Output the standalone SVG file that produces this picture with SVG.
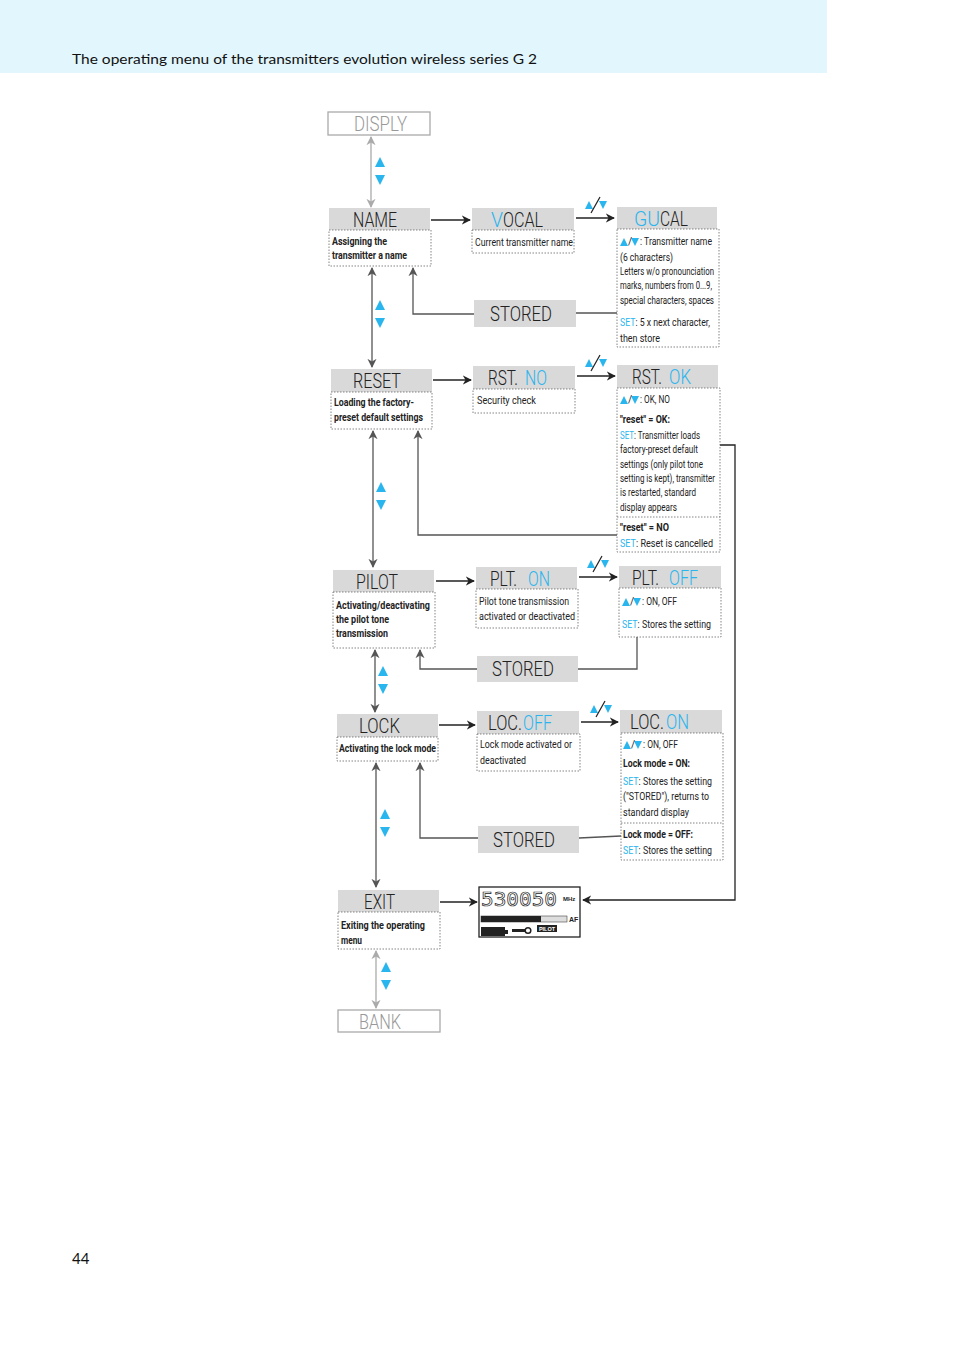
<svg xmlns="http://www.w3.org/2000/svg" width="954" height="1351" viewBox="0 0 954 1351">
<style>
.hd{fill:#d9d9d9}
.ds{fill:#fff;stroke:#666;stroke-width:0.8;stroke-dasharray:1.5 1.5}
.ht{font-family:Roboto,"Liberation Sans",sans-serif;font-weight:300;font-size:20px;fill:#222}
.hb{font-family:Roboto,"Liberation Sans",sans-serif;font-weight:300;font-size:20px;fill:#29b5ee}
.b{fill:#29b5ee}
.t{font-family:Roboto,"Liberation Sans",sans-serif;font-size:10px;fill:#222}
.tb{font-family:Roboto,"Liberation Sans",sans-serif;font-size:10px;fill:#222;font-weight:bold}
.ln{fill:none;stroke:#555;stroke-width:1.3}
.lk{fill:none;stroke:#222;stroke-width:1.3}
.lg{fill:none;stroke:#aaa;stroke-width:1.3}
.gr{font-family:Roboto,"Liberation Sans",sans-serif;font-weight:300;font-size:20px;fill:#999}
</style>
<defs>
<marker id="a" viewBox="0 0 10 10" refX="9" refY="5" markerWidth="7" markerHeight="7" orient="auto-start-reverse"><path d="M0,0 L10,5 L0,10 L3,5 z" fill="#222"/></marker>
<marker id="ag" viewBox="0 0 10 10" refX="9" refY="5" markerWidth="7" markerHeight="7" orient="auto-start-reverse"><path d="M0,0 L10,5 L0,10 L3,5 z" fill="#555"/></marker>
<marker id="al" viewBox="0 0 10 10" refX="9" refY="5" markerWidth="7" markerHeight="7" orient="auto-start-reverse"><path d="M0,0 L10,5 L0,10 L3,5 z" fill="#aaa"/></marker>
<g id="ud"><path d="M-5,0 L0,-10 L5,0 z" class="b"/><path d="M-5,8 L5,8 L0,18 z" class="b"/></g>
<g id="sl"><path d="M-11,3 L-7,-5 L-3,3 z" class="b"/><path d="M3,-5 L11,-5 L7,3 z" class="b"/><path d="M-5,7 L4,-9" stroke="#222" stroke-width="1.2"/></g>
</defs>
<rect x="0" y="0" width="827" height="73" fill="#e1f6fd"/>
<text x="72" y="64" font-family="Lato,'Open Sans',sans-serif" font-size="14" fill="#111" textLength="465" lengthAdjust="spacingAndGlyphs">The operating menu of the transmitters evolution wireless series G 2</text>
<text x="72" y="1264" font-family="Lato,'Open Sans',sans-serif" font-size="15" fill="#111">44</text>

<g id="connectors">
<path class="lg" d="M371,137 V207" marker-start="url(#al)" marker-end="url(#al)"/>
<use href="#ud" x="380" y="167"/>
<path class="lk" d="M431,220 H470" marker-end="url(#a)"/>
<path class="lk" d="M576,218 H614" marker-end="url(#a)"/><use href="#sl" x="596" y="206"/>
<path class="ln" d="M617,313 H576 M474,314 H413 V268" marker-end="url(#ag)"/>
<path class="ln" d="M372,268 V367" marker-start="url(#ag)" marker-end="url(#ag)"/>
<use href="#ud" x="380" y="310"/>
<path class="lk" d="M433,380 H471" marker-end="url(#a)"/>
<path class="lk" d="M577,376 H615" marker-end="url(#a)"/><use href="#sl" x="596" y="364"/>
<path class="ln" d="M617,535 H418 V431" marker-end="url(#ag)"/>
<path class="lk" d="M720,445 H735 V900 H583" marker-end="url(#a)"/>
<path class="ln" d="M373,431 V567" marker-start="url(#ag)" marker-end="url(#ag)"/>
<use href="#ud" x="381" y="492"/>
<path class="lk" d="M436,581 H474" marker-end="url(#a)"/>
<path class="lk" d="M579,577 H617" marker-end="url(#a)"/><use href="#sl" x="598" y="565"/>
<path class="ln" d="M637,637 V669 H578 M477,669 H420 V650" marker-end="url(#ag)"/>
<path class="ln" d="M375,650 V712" marker-start="url(#ag)" marker-end="url(#ag)"/>
<use href="#ud" x="383" y="676"/>
<path class="lk" d="M439,725 H475" marker-end="url(#a)"/>
<path class="lk" d="M581,722 H618" marker-end="url(#a)"/><use href="#sl" x="601" y="710"/>
<path class="ln" d="M621,836 L579,838 M478,838 H420 V763" marker-end="url(#ag)"/>
<path class="ln" d="M376,763 V887" marker-start="url(#ag)" marker-end="url(#ag)"/>
<use href="#ud" x="385" y="819"/>
<path class="lk" d="M440,902 H477" marker-end="url(#a)"/>
<path class="lg" d="M376,951 V1008" marker-start="url(#al)" marker-end="url(#al)"/>
<use href="#ud" x="386" y="972"/>
</g>

<g id="disply"><rect x="328" y="112" width="102" height="23" fill="#fff" stroke="#aaa" stroke-width="1.3"/><text class="gr" x="354" y="131" textLength="53" lengthAdjust="spacingAndGlyphs">DISPLY</text></g>
<g id="bank"><rect x="338" y="1010" width="102" height="22" fill="#fff" stroke="#aaa" stroke-width="1.3"/><text class="gr" x="359" y="1029" textLength="42" lengthAdjust="spacingAndGlyphs">BANK</text></g>

<g id="name"><rect class="hd" x="329" y="208" width="101" height="22"/><text class="ht" x="353" y="227" textLength="44" lengthAdjust="spacingAndGlyphs">NAME</text>
<rect class="ds" x="329" y="230" width="102" height="36"/><text class="tb" x="332" y="245" textLength="55" lengthAdjust="spacingAndGlyphs">Assigning the</text><text class="tb" x="332" y="259" textLength="75" lengthAdjust="spacingAndGlyphs">transmitter a name</text></g>

<g id="vocal"><rect class="hd" x="472" y="208" width="102" height="22"/><text class="hb" x="491" y="227" textLength="12" lengthAdjust="spacingAndGlyphs">V</text><text class="ht" x="503" y="227" textLength="40" lengthAdjust="spacingAndGlyphs">OCAL</text>
<rect class="ds" x="472" y="230" width="102" height="23"/><text class="t" x="475" y="246" textLength="98" lengthAdjust="spacingAndGlyphs">Current transmitter name</text></g>

<g id="gucal"><rect class="hd" x="617" y="207" width="100" height="22"/><text class="hb" x="634" y="226" textLength="26" lengthAdjust="spacingAndGlyphs">GU</text><text class="ht" x="660" y="226" textLength="28" lengthAdjust="spacingAndGlyphs">CAL</text>
<rect class="ds" x="617" y="229" width="102" height="118"/>
<path d="M620,246 L624,238 L628,246 z M631,238 L639,238 L635,246 z" class="b"/>
<text class="t" x="628" y="245">/</text><text class="t" x="640" y="245" textLength="72" lengthAdjust="spacingAndGlyphs">: Transmitter name</text>
<text class="t" x="620" y="261" textLength="53" lengthAdjust="spacingAndGlyphs">(6 characters)</text>
<text class="t" x="620" y="275" textLength="94" lengthAdjust="spacingAndGlyphs">Letters w/o pronounciation</text>
<text class="t" x="620" y="289" textLength="92" lengthAdjust="spacingAndGlyphs">marks, numbers from 0...9,</text>
<text class="t" x="620" y="304" textLength="94" lengthAdjust="spacingAndGlyphs">special characters, spaces</text>
<text class="t" x="620" y="326" textLength="90" lengthAdjust="spacingAndGlyphs"><tspan fill="#29b5ee">SET</tspan>: 5 x next character,</text>
<text class="t" x="620" y="342" textLength="40" lengthAdjust="spacingAndGlyphs">then store</text></g>

<g id="stored1"><rect class="hd" x="474" y="300" width="102" height="27"/><text class="ht" x="490" y="321" textLength="62" lengthAdjust="spacingAndGlyphs">STORED</text></g>

<g id="reset"><rect class="hd" x="331" y="369" width="101" height="23"/><text class="ht" x="353" y="388" textLength="48" lengthAdjust="spacingAndGlyphs">RESET</text>
<rect class="ds" x="331" y="392" width="101" height="37"/><text class="tb" x="334" y="406" textLength="80" lengthAdjust="spacingAndGlyphs">Loading the factory-</text><text class="tb" x="334" y="421" textLength="89" lengthAdjust="spacingAndGlyphs">preset default settings</text></g>

<g id="rstno"><rect class="hd" x="473" y="366" width="102" height="23"/><text class="ht" x="488" y="385" textLength="30" lengthAdjust="spacingAndGlyphs">RST.</text><text class="hb" x="525" y="385" textLength="22" lengthAdjust="spacingAndGlyphs">NO</text>
<rect class="ds" x="473" y="389" width="102" height="24"/><text class="t" x="477" y="404" textLength="59" lengthAdjust="spacingAndGlyphs">Security check</text></g>

<g id="rstok"><rect class="hd" x="617" y="365" width="101" height="23"/><text class="ht" x="632" y="384" textLength="30" lengthAdjust="spacingAndGlyphs">RST.</text><text class="hb" x="669" y="384" textLength="22" lengthAdjust="spacingAndGlyphs">OK</text>
<rect class="ds" x="617" y="388" width="103" height="164"/><path class="ds" d="M617,517 H720"/>
<path d="M620,404 L624,396 L628,404 z M631,396 L639,396 L635,404 z" class="b"/>
<text class="t" x="628" y="403">/</text><text class="t" x="640" y="403" textLength="30" lengthAdjust="spacingAndGlyphs">: OK, NO</text>
<text class="tb" x="620" y="423" textLength="50" lengthAdjust="spacingAndGlyphs">"reset" = OK:</text>
<text class="t" x="620" y="439" textLength="80" lengthAdjust="spacingAndGlyphs"><tspan fill="#29b5ee">SET</tspan>: Transmitter loads</text>
<text class="t" x="620" y="453" textLength="78" lengthAdjust="spacingAndGlyphs">factory-preset default</text>
<text class="t" x="620" y="468" textLength="83" lengthAdjust="spacingAndGlyphs">settings (only pilot tone</text>
<text class="t" x="620" y="482" textLength="95" lengthAdjust="spacingAndGlyphs">setting is kept), transmitter</text>
<text class="t" x="620" y="496" textLength="76" lengthAdjust="spacingAndGlyphs">is restarted, standard</text>
<text class="t" x="620" y="511" textLength="57" lengthAdjust="spacingAndGlyphs">display appears</text>
<text class="tb" x="620" y="531" textLength="49" lengthAdjust="spacingAndGlyphs">"reset" = NO</text>
<text class="t" x="620" y="547" textLength="93" lengthAdjust="spacingAndGlyphs"><tspan fill="#29b5ee">SET</tspan>: Reset is cancelled</text></g>

<g id="pilot"><rect class="hd" x="333" y="570" width="101" height="22"/><text class="ht" x="356" y="589" textLength="42" lengthAdjust="spacingAndGlyphs">PILOT</text>
<rect class="ds" x="333" y="592" width="102" height="56"/><text class="tb" x="336" y="609" textLength="94" lengthAdjust="spacingAndGlyphs">Activating/deactivating</text><text class="tb" x="336" y="623" textLength="53" lengthAdjust="spacingAndGlyphs">the pilot tone</text><text class="tb" x="336" y="637" textLength="52" lengthAdjust="spacingAndGlyphs">transmission</text></g>

<g id="plton"><rect class="hd" x="476" y="567" width="101" height="22"/><text class="ht" x="490" y="586" textLength="27" lengthAdjust="spacingAndGlyphs">PLT.</text><text class="hb" x="528" y="586" textLength="22" lengthAdjust="spacingAndGlyphs">ON</text>
<rect class="ds" x="476" y="589" width="102" height="39"/><text class="t" x="479" y="605" textLength="90" lengthAdjust="spacingAndGlyphs">Pilot tone transmission</text><text class="t" x="479" y="620" textLength="96" lengthAdjust="spacingAndGlyphs">activated or deactivated</text></g>

<g id="pltoff"><rect class="hd" x="619" y="566" width="102" height="22"/><text class="ht" x="632" y="585" textLength="27" lengthAdjust="spacingAndGlyphs">PLT.</text><text class="hb" x="669" y="585" textLength="29" lengthAdjust="spacingAndGlyphs">OFF</text>
<rect class="ds" x="619" y="588" width="102" height="49"/>
<path d="M622,606 L626,598 L630,606 z M633,598 L641,598 L637,606 z" class="b"/>
<text class="t" x="630" y="605">/</text><text class="t" x="642" y="605" textLength="35" lengthAdjust="spacingAndGlyphs">: ON, OFF</text>
<text class="t" x="622" y="628" textLength="89" lengthAdjust="spacingAndGlyphs"><tspan fill="#29b5ee">SET</tspan>: Stores the setting</text></g>

<g id="stored2"><rect class="hd" x="477" y="656" width="101" height="26"/><text class="ht" x="492" y="676" textLength="62" lengthAdjust="spacingAndGlyphs">STORED</text></g>

<g id="lock"><rect class="hd" x="337" y="714" width="101" height="23"/><text class="ht" x="359" y="733" textLength="41" lengthAdjust="spacingAndGlyphs">LOCK</text>
<rect class="ds" x="337" y="737" width="101" height="24"/><text class="tb" x="339" y="752" textLength="97" lengthAdjust="spacingAndGlyphs">Activating the lock mode</text></g>

<g id="locoff"><rect class="hd" x="477" y="711" width="102" height="23"/><text class="ht" x="488" y="730" textLength="34" lengthAdjust="spacingAndGlyphs">LOC.</text><text class="hb" x="523" y="730" textLength="29" lengthAdjust="spacingAndGlyphs">OFF</text>
<rect class="ds" x="477" y="734" width="103" height="37"/><text class="t" x="480" y="748" textLength="92" lengthAdjust="spacingAndGlyphs">Lock mode activated or</text><text class="t" x="480" y="764" textLength="46" lengthAdjust="spacingAndGlyphs">deactivated</text></g>

<g id="locon"><rect class="hd" x="620" y="710" width="102" height="23"/><text class="ht" x="630" y="729" textLength="34" lengthAdjust="spacingAndGlyphs">LOC.</text><text class="hb" x="666" y="729" textLength="23" lengthAdjust="spacingAndGlyphs">ON</text>
<rect class="ds" x="621" y="733" width="102" height="127"/><path class="ds" d="M621,823 H723"/>
<path d="M623,749 L627,741 L631,749 z M634,741 L642,741 L638,749 z" class="b"/>
<text class="t" x="631" y="748">/</text><text class="t" x="643" y="748" textLength="35" lengthAdjust="spacingAndGlyphs">: ON, OFF</text>
<text class="tb" x="623" y="767" textLength="67" lengthAdjust="spacingAndGlyphs">Lock mode = ON:</text>
<text class="t" x="623" y="785" textLength="89" lengthAdjust="spacingAndGlyphs"><tspan fill="#29b5ee">SET</tspan>: Stores the setting</text>
<text class="t" x="623" y="800" textLength="86" lengthAdjust="spacingAndGlyphs">("STORED"), returns to</text>
<text class="t" x="623" y="816" textLength="66" lengthAdjust="spacingAndGlyphs">standard display</text>
<text class="tb" x="623" y="838" textLength="70" lengthAdjust="spacingAndGlyphs">Lock mode = OFF:</text>
<text class="t" x="623" y="854" textLength="89" lengthAdjust="spacingAndGlyphs"><tspan fill="#29b5ee">SET</tspan>: Stores the setting</text></g>

<g id="stored3"><rect class="hd" x="478" y="826" width="101" height="27"/><text class="ht" x="493" y="847" textLength="62" lengthAdjust="spacingAndGlyphs">STORED</text></g>

<g id="exit"><rect class="hd" x="338" y="890" width="101" height="22"/><text class="ht" x="364" y="909" textLength="31" lengthAdjust="spacingAndGlyphs">EXIT</text>
<rect class="ds" x="338" y="912" width="102" height="37"/><text class="tb" x="341" y="929" textLength="84" lengthAdjust="spacingAndGlyphs">Exiting the operating</text><text class="tb" x="341" y="944" textLength="21" lengthAdjust="spacingAndGlyphs">menu</text></g>

<g id="display"><rect x="479" y="887" width="101" height="50" fill="#fff" stroke="#222" stroke-width="1.3"/>
<text x="481" y="906" font-family="'DejaVu Sans Mono',monospace" font-size="20" fill="#fff" stroke="#222" stroke-width="0.7" textLength="76" lengthAdjust="spacingAndGlyphs">530050</text>
<text x="563" y="901" font-family="'Liberation Sans',sans-serif" font-size="6" font-weight="bold" fill="#222">MHz</text>
<rect x="481" y="916" width="86" height="6" fill="#ddd" stroke="#444" stroke-width="0.6"/><rect x="481" y="916" width="60" height="6" fill="#222"/>
<text x="569" y="922" font-family="'Liberation Sans',sans-serif" font-size="7" font-weight="bold" fill="#222">AF</text>
<rect x="481" y="927" width="24" height="9" fill="#222"/><rect x="505" y="930" width="3" height="4" fill="#222"/>
<rect x="512" y="929" width="14" height="3" fill="#222"/><circle cx="528" cy="930.5" r="2.8" fill="#fff" stroke="#222" stroke-width="1.5"/>
<rect x="537" y="925" width="20" height="7" fill="#222"/><text x="547" y="931" font-family="'Liberation Sans',sans-serif" font-size="5.5" font-weight="bold" fill="#fff" text-anchor="middle">PILOT</text></g>
</svg>
